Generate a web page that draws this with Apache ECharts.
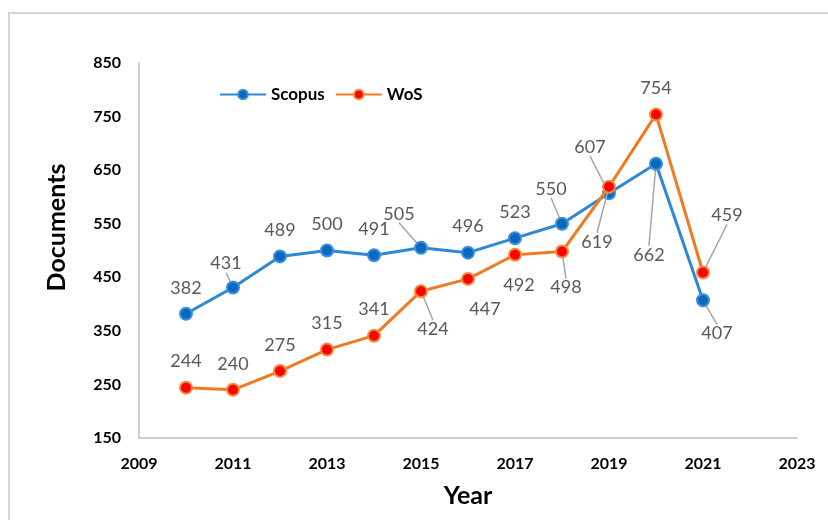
<!DOCTYPE html>
<html>
<head>
<meta charset="utf-8">
<script src="https://cdn.jsdelivr.net/npm/echarts@6/dist/echarts.min.js"></script>
<style>
  html, body { margin: 0; padding: 0; background: #fff; }
  #main { width: 828px; height: 520px; }
</style>
</head>
<body>
<div id="main"></div>
<script>
// data
let years = [2010, 2011, 2012, 2013, 2014, 2015, 2016, 2017, 2018, 2019, 2020, 2021];
let scopus = [382, 431, 489, 500, 491, 505, 496, 523, 550, 607, 662, 407];
let wos = [244, 240, 275, 315, 341, 424, 447, 492, 498, 619, 754, 459];
let xTicks = [2009, 2023, 2];
let yTicks = [150, 850, 100];

// label nudges (px) away from the default "top" spot, and which ones get a leader line
let scopusShift = { 1: [-7, 2], 5: [-22, -8], 8: [-11, -9], 9: [-19, -20], 10: [-7, 117], 11: [14, 59] };
let wosShift = { 5: [12, 64], 6: [17, 56], 7: [4, 56], 8: [4, 62], 9: [-12, 81], 11: [24, -31] };
let scopusLeader = [1, 5, 8, 9, 10, 11];
let wosLeader = [5, 8, 9, 11];

let chart = echarts.init(document.getElementById('main'));

function buildData(vals, leaders) {
    return vals.map((v, i) => ({
        value: [years[i], v],
        labelLine: { show: leaders.indexOf(i) >= 0 }
    }))
}

function shifter(shift) {
    return params => {
        let s = shift[params.dataIndex];
        return s ? { dx: s[0], dy: s[1] } : {};
    }
}

let labelStyle = {
    show: true,
    position: 'top',
    distance: 10,
    color: '#595959',
    fontFamily: 'Lato',
    fontSize: 18
};
let leaderStyle = { lineStyle: { color: '#a6a6a6', width: 1.5 } };
let tickFont = { fontFamily: 'Lato', fontWeight: 'bold', fontSize: 16, color: '#000' };
let nameFont = { fontFamily: 'Lato', fontWeight: 'bold', fontSize: 25, color: '#000' };

let option = {
    animation: false,
    backgroundColor: '#fff',
    graphic: [{
        type: 'rect',
        shape: { x: 9, y: 13, width: 840, height: 540 },
        style: { fill: 'none', stroke: '#d4d4d4', lineWidth: 2 },
        silent: true
    }],
    grid: { left: 139, top: 63, right: 31, bottom: 82 },
    legend: {
        left: 214,
        top: 81,
        itemWidth: 46,
        itemHeight: 12,
        itemGap: 10,
        textStyle: { fontFamily: 'Lato', fontWeight: 'bold', fontSize: 17, color: '#000' },
        data: ['Scopus', 'WoS']
    },
    xAxis: {
        type: 'value',
        min: xTicks[0],
        max: xTicks[1],
        interval: xTicks[2],
        name: 'Year',
        nameLocation: 'middle',
        nameGap: 45,
        nameTextStyle: nameFont,
        splitLine: { show: false },
        axisTick: { show: false },
        axisLine: { lineStyle: { color: '#bfbfbf', width: 1.5 } },
        axisLabel: Object.assign({ margin: 18, formatter: v => String(v) }, tickFont)
    },
    yAxis: {
        type: 'value',
        min: yTicks[0],
        max: yTicks[1],
        interval: yTicks[2],
        name: 'Documents',
        nameLocation: 'middle',
        nameGap: 70,
        nameTextStyle: Object.assign({ padding: [0, 0, 0, 46] }, nameFont),
        splitLine: { show: false },
        axisTick: { show: false },
        axisLine: { show: true, lineStyle: { color: '#bfbfbf', width: 1.5 } },
        axisLabel: Object.assign({ margin: 18 }, tickFont)
    },
    series: [{
        name: 'Scopus',
        type: 'line',
        data: buildData(scopus, scopusLeader),
        symbol: 'circle',
        symbolSize: 12,
        lineStyle: { color: '#2e88d6', width: 3 },
        itemStyle: { color: '#0b68c0', borderColor: '#3a8fdc', borderWidth: 2 },
        label: labelStyle,
        labelLine: leaderStyle,
        labelLayout: shifter(scopusShift),
        z: 3
    }, {
        name: 'WoS',
        type: 'line',
        data: buildData(wos, wosLeader),
        symbol: 'circle',
        symbolSize: 12,
        lineStyle: { color: '#f07a22', width: 3 },
        itemStyle: { color: '#ff0000', borderColor: '#f48a3a', borderWidth: 2 },
        label: labelStyle,
        labelLine: leaderStyle,
        labelLayout: shifter(wosShift),
        z: 4
    }]
};
chart.setOption(option);
</script>
</body>
</html>
